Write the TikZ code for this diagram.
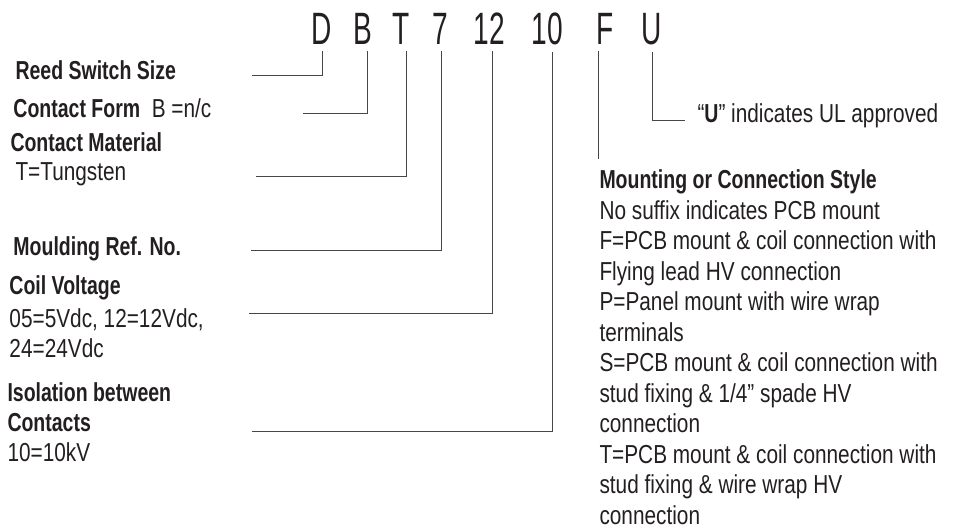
\documentclass[tikz,border=0pt]{standalone}
\usepackage{fontspec}
\setmainfont{Liberation Sans}[FakeStretch=0.8,BoldFeatures={FakeStretch=0.75}]
\newfontfamily\codefont{Liberation Sans}[FakeStretch=0.62]
\definecolor{ink}{RGB}{35,31,32}
\definecolor{leader}{RGB}{70,70,70}

\tikzset{every picture/.style={line width=0.75pt}}
\tikzset{
  codechar/.style={anchor=base, inner xsep=0pt, inner ysep=4.5pt, text=ink, font={\codefont\fontsize{34}{34}\selectfont}},
  lbl/.style={anchor=base west, inner sep=0pt, text=ink, font={\fontsize{19.5}{23}\selectfont}},
  conn/.style={draw=leader, line width=0.75pt}
}

\begin{document}
\begin{tikzpicture}[x=0.75pt,y=0.75pt,yscale=-1,xscale=1]
\useasboundingbox (0,0) rectangle (957,530);

% Code letters
\draw (322,45) node (cD) [codechar] {D};
\draw (363,45) node (cB) [codechar] {B};
\draw (401,45) node (cT) [codechar] {T};
\draw (440,45) node (c7) [codechar] {7};
\draw (489,45) node (c12) [codechar] {12};
\draw (547,45) node (c10) [codechar] {10};
\draw (605,45) node (cF) [codechar] {F};
\draw (652,45) node (cU) [codechar] {U};

% Leader ends
\coordinate (eD) at (252,76);
\coordinate (eB) at (303,114);
\coordinate (eT) at (256,177);
\coordinate (e7) at (251,251);
\coordinate (e12) at (249,314);
\coordinate (e10) at (252,432);
\coordinate (eF) at (598,159);
\coordinate (eU) at (685,121);

% Text Node
\draw (15,80) node (lReed) [lbl] {\bfseries Reed Switch Size};
% Text Node
\draw (13,118) node (lForm) [lbl] {\textbf{Contact Form}\ \ B =n/c};
% Text Node
\draw (10,152) node (lMat) [lbl] {\bfseries Contact Material};
\draw (15,181) node (lMatT) [lbl] {T=Tungsten};
% Text Node
\draw (13,256) node (lMould) [lbl] {\bfseries Moulding Ref. No.};
% Text Node
\draw (9,295) node (lCoil) [lbl] {\bfseries Coil Voltage};
\draw (9,328) node (lCoilA) [lbl] {05=5Vdc, 12=12Vdc,};
\draw (9,358) node (lCoilB) [lbl] {24=24Vdc};
% Text Node
\draw (7,402) node (lIso) [lbl] {\bfseries Isolation between};
\draw (7,432) node (lIsoA) [lbl] {\bfseries Contacts};
\draw (7,462) node (lIsoB) [lbl] {10=10kV};
% Text Node
\draw (697,123) node (lUL) [lbl] {“\textbf{U}” indicates UL approved};
% Text Node
\draw (599,189) node (lMount) [lbl] {\bfseries Mounting or Connection Style};
\draw (599,219.5) node (lMnt1) [lbl] {No suffix indicates PCB mount};
\draw (599,250) node (lMnt2) [lbl] {F=PCB mount \& coil connection with};
\draw (599,280.5) node (lMnt3) [lbl] {Flying lead HV connection};
\draw (599,311) node (lMnt4) [lbl] {P=Panel mount with wire wrap};
\draw (599,341.5) node (lMnt5) [lbl] {terminals};
\draw (599,372) node (lMnt6) [lbl] {S=PCB mount \& coil connection with};
\draw (599,402.5) node (lMnt7) [lbl] {stud fixing \& 1/4” spade HV};
\draw (599,433) node (lMnt8) [lbl] {connection};
\draw (599,463.5) node (lMnt9) [lbl] {T=PCB mount \& coil connection with};
\draw (599,494) node (lMnt10) [lbl] {stud fixing \& wire wrap HV};
\draw (599,524.5) node (lMnt11) [lbl] {connection};

%Straight Lines
\draw [conn] (cD.south) |- (eD);
\draw [conn] ([xshift=3pt]cB.south) |- (eB);
\draw [conn] ([xshift=3.75pt]cT.south) |- (eT);
\draw [conn] ([xshift=0.75pt]c7.south) |- (e7);
\draw [conn] ([xshift=2.25pt]c12.south) |- (e12);
\draw [conn] ([xshift=3.75pt]c10.south) |- (e10);
\draw [conn] ([xshift=-5.25pt]cF.south) -- (eF);
\draw [conn] (cU.south) |- (eU);

\end{tikzpicture}
\end{document}
